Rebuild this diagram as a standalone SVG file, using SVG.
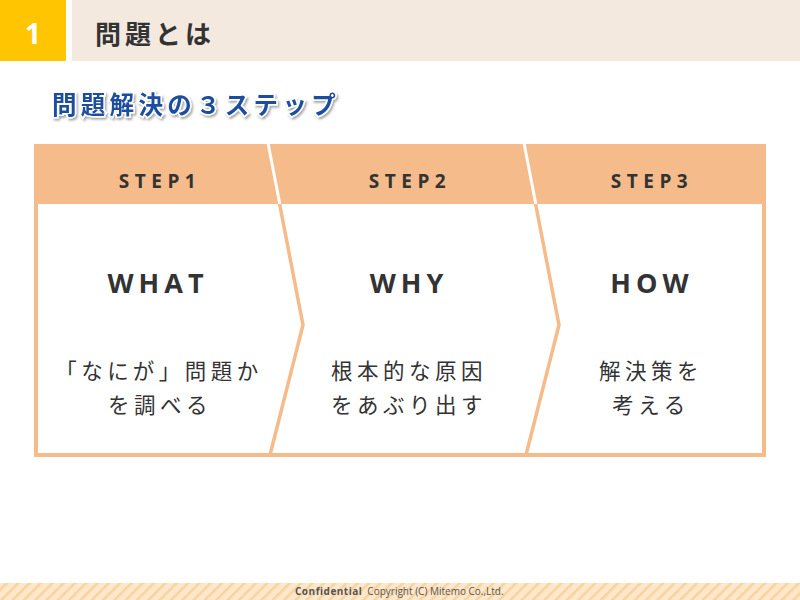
<svg xmlns="http://www.w3.org/2000/svg" width="800" height="600" viewBox="0 0 800 600">
<defs>
<style>
.jp{font-family:"Noto Sans CJK JP","Noto Sans",sans-serif;}
.step{font-family:"Open Sans","Noto Sans",sans-serif;font-weight:700;font-size:19px;letter-spacing:5.5px;fill:#333;text-anchor:middle;}
.big{font-family:"Open Sans","Noto Sans",sans-serif;font-weight:700;font-size:27px;letter-spacing:5px;fill:#333;text-anchor:middle;}
.body{font-family:"Noto Sans CJK JP",sans-serif;font-size:21.5px;letter-spacing:4.5px;fill:#333;text-anchor:middle;}
.div{fill:none;stroke:#F5BB8A;stroke-width:3.5;stroke-linejoin:miter;}
.gap{stroke:#fff;stroke-width:3;}
</style>
<pattern id="stripe" width="8" height="8" patternUnits="userSpaceOnUse" patternTransform="rotate(45)">
<rect width="8" height="8" fill="#FDE7CD"/>
<rect width="2.5" height="8" fill="#F9D39A"/>
</pattern>
<filter id="sh" x="-5%" y="-20%" width="110%" height="150%">
<feDropShadow dx="1.5" dy="2" stdDeviation="1.2" flood-color="#000" flood-opacity="0.35"/>
</filter>
</defs>

<g id="header">
<rect x="0" y="0" width="66" height="61" fill="#FFC500"/>
<rect x="72" y="0" width="728" height="61" fill="#F3E9DF"/>
<text x="33" y="44" text-anchor="middle" font-family="Open Sans, sans-serif" font-weight="700" font-size="28" fill="#fff">1</text>
<text x="95" y="44" class="jp" font-weight="700" font-size="26" letter-spacing="4" fill="#333">問題とは</text>
</g>

<g id="subtitle">
<text x="52" y="114" class="jp" font-weight="700" font-size="24.5" letter-spacing="4.3" fill="#1D4E9E" stroke="#fff" stroke-width="3" paint-order="stroke" filter="url(#sh)">問題解決の３ステップ</text>
</g>

<g id="frame">
<rect x="34" y="144" width="732" height="313" fill="#F5BB8A"/>
<rect x="38" y="204" width="724" height="249" fill="#fff"/>
</g>

<g id="connectors">
<line class="gap" x1="268" y1="143" x2="280" y2="205"/>
<line class="gap" x1="524" y1="143" x2="536" y2="205"/>
<polyline class="div" points="279.6,204 303,325 270,455"/>
<polyline class="div" points="535.6,204 559,325 526,455"/>
</g>

<g id="step1">
<text class="step" x="160" y="188">STEP1</text>
<text class="big" x="158" y="293">WHAT</text>
<text class="body" x="159" y="379">「なにが」問題か</text>
<text class="body" x="160" y="413">を調べる</text>
</g>

<g id="step2">
<text class="step" x="410" y="188">STEP2</text>
<text class="big" x="409" y="293">WHY</text>
<text class="body" x="409" y="379">根本的な原因</text>
<text class="body" x="409" y="413">をあぶり出す</text>
</g>

<g id="step3">
<text class="step" x="652" y="188">STEP3</text>
<text class="big" x="652" y="293">HOW</text>
<text class="body" x="651" y="379">解決策を</text>
<text class="body" x="651" y="413">考える</text>
</g>

<g id="footer">
<rect x="0" y="583" width="800" height="17" fill="url(#stripe)"/>
<text x="295" y="595" font-family="Open Sans, sans-serif" font-size="10" fill="#555"><tspan font-weight="700" letter-spacing="0.5">Confidential</tspan><tspan dx="5">Copyright (C) Mitemo Co.,Ltd.</tspan></text>
</g>
</svg>
